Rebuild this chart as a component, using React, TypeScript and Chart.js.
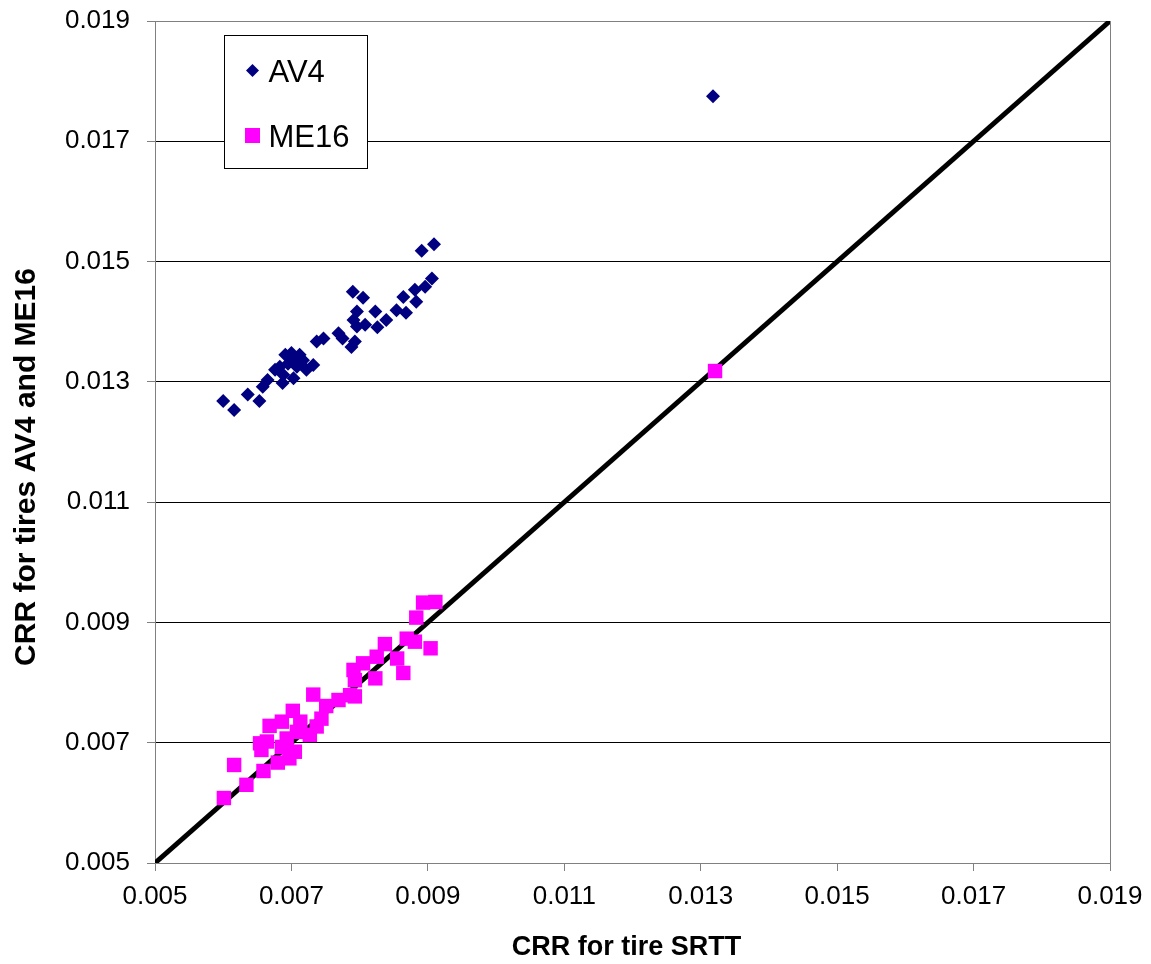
import React, { useEffect, useRef } from "react";
import { Chart, registerables } from "chart.js";

Chart.register(...registerables);

// Rolling resistance coefficients: SRTT (x) against AV4 and ME16 (y)
const av4X = [
  0.0060, 0.00616, 0.00636, 0.00653, 0.00658, 0.00665, 0.00687, 0.00683, 0.00691, 0.0070,
  0.00703, 0.00708, 0.00717, 0.00722, 0.00732, 0.00737, 0.00747, 0.00769, 0.00775, 0.00788,
  0.00793, 0.0079, 0.00805, 0.00796, 0.00791, 0.00796, 0.00808, 0.00823, 0.00826, 0.00839,
  0.00854, 0.00864, 0.00868, 0.00881, 0.00883, 0.00896, 0.00906, 0.00891, 0.00909, 0.01318,
  0.00676, 0.00695, 0.00712, 0.00688, 0.00705,
];
const av4Y = [
  0.01268, 0.01253, 0.01279, 0.01268, 0.01292, 0.01303, 0.01298, 0.01325, 0.01345, 0.01348,
  0.01306, 0.01325, 0.01336, 0.0132, 0.01328, 0.01367, 0.01372, 0.01381, 0.01372, 0.01358,
  0.01367, 0.0145, 0.0144, 0.01417, 0.01403, 0.01392, 0.01395, 0.01417, 0.01391, 0.01403,
  0.01419, 0.01441, 0.01415, 0.01453, 0.01433, 0.01458, 0.01472, 0.01518, 0.01529, 0.01775,
  0.0132, 0.0133, 0.01345, 0.01312, 0.01338,
];

const me16X = [
  0.00601, 0.00634, 0.00616, 0.00659, 0.0068, 0.00697, 0.00705, 0.00686, 0.00654, 0.00664,
  0.00656, 0.00693, 0.00708, 0.00727, 0.00737, 0.00744, 0.00668, 0.00686, 0.00702, 0.00732,
  0.00769, 0.00786, 0.00793, 0.00793, 0.00791, 0.00805, 0.00823, 0.00825, 0.00837, 0.00855,
  0.00864, 0.00869, 0.00881, 0.00883, 0.00904, 0.00893, 0.00911, 0.01321, 0.00713, 0.00751,
];
const me16Y = [
  0.00608, 0.0063, 0.00663, 0.00653, 0.00667, 0.00674, 0.00685, 0.00693, 0.00699, 0.00702,
  0.00688, 0.00707, 0.00718, 0.00713, 0.00727, 0.0074, 0.00728, 0.00735, 0.00753, 0.0078,
  0.00771, 0.00779, 0.00777, 0.00804, 0.00821, 0.00832, 0.00807, 0.00843, 0.00864, 0.0084,
  0.00816, 0.00873, 0.00868, 0.00908, 0.00857, 0.00933, 0.00934, 0.01318, 0.00735, 0.00761,
];

// Equality line y = x across the full axis range
const equalityLine = [0.005, 0.019];

const axisTicks = [0.005, 0.007, 0.009, 0.011, 0.013, 0.015, 0.017, 0.019];

const seriesNames = ["AV4", "ME16"];
const seriesColors = ["#000080", "#FF00FF"];
const yAxisTitle = "CRR for tires AV4 and ME16";
const xAxisTitle = "CRR for tire SRTT";

const FONT = "'Liberation Sans', Arial, sans-serif";

const toPoints = (xs: number[], ys: number[]) => xs.map((x, i) => ({ x, y: ys[i] }));

// Grey frame around the plot area, the axis titles and an inset key box
const frameAndKey = {
  id: "frameAndKey",
  beforeDatasetsDraw(chart: any) {
    const { ctx, chartArea: a } = chart;
    ctx.save();
    ctx.strokeStyle = "#808080";
    ctx.lineWidth = 1;
    ctx.strokeRect(a.left + 0.5, a.top + 0.5, a.right - a.left, a.bottom - a.top);
    ctx.restore();
  },
  afterDraw(chart: any) {
    const { ctx, chartArea: a } = chart;

    // vertical axis title
    ctx.save();
    ctx.translate(35, (a.top + a.bottom) / 2 + 25);
    ctx.rotate(-Math.PI / 2);
    ctx.font = `bold 30px ${FONT}`;
    ctx.fillStyle = "#000000";
    ctx.textAlign = "center";
    ctx.textBaseline = "alphabetic";
    ctx.fillText(yAxisTitle, 0, 0);
    ctx.restore();

    // horizontal axis title
    ctx.save();
    ctx.font = `bold 27px ${FONT}`;
    ctx.fillStyle = "#000000";
    ctx.textAlign = "center";
    ctx.textBaseline = "alphabetic";
    ctx.fillText(xAxisTitle, (a.left + a.right) / 2 - 6, a.bottom + 92);
    ctx.restore();

    const bx = a.left + 69.5;
    const by = a.top + 14.5;
    const bw = 143;
    const bh = 133;
    ctx.save();
    ctx.fillStyle = "#ffffff";
    ctx.fillRect(bx, by, bw, bh);
    ctx.strokeStyle = "#000000";
    ctx.lineWidth = 1;
    ctx.strokeRect(bx, by, bw, bh);

    // AV4 diamond
    const dx = bx + 28;
    const dy = by + 35;
    ctx.fillStyle = seriesColors[0];
    ctx.beginPath();
    ctx.moveTo(dx - 6.5, dy);
    ctx.lineTo(dx, dy - 6.5);
    ctx.lineTo(dx + 6.5, dy);
    ctx.lineTo(dx, dy + 6.5);
    ctx.closePath();
    ctx.fill();

    // ME16 square
    const sx = bx + 28;
    const sy = by + 100;
    ctx.fillStyle = seriesColors[1];
    ctx.fillRect(sx - 7.5, sy - 7.5, 15, 15);

    ctx.fillStyle = "#000000";
    ctx.font = `31px ${FONT}`;
    ctx.textBaseline = "alphabetic";
    ctx.textAlign = "left";
    ctx.fillText(seriesNames[0], bx + 44, by + 46);
    ctx.fillText(seriesNames[1], bx + 44, by + 111);
    ctx.restore();
  },
};

export default function App() {
  const canvasRef = useRef<HTMLCanvasElement | null>(null);

  useEffect(() => {
    const canvas = canvasRef.current;
    if (!canvas) return;

    const tickFont = { family: FONT, size: 26 };
    const setTicks = (scale: any) => {
      scale.ticks = axisTicks.map((value) => ({ value }));
    };
    const fmt = (v: any) => Number(v).toFixed(3);

    const chart = new Chart(canvas, {
      type: "scatter",
      data: {
        datasets: [
          {
            label: seriesNames[0],
            data: toPoints(av4X, av4Y),
            pointStyle: "rectRot",
            pointRadius: 7,
            pointBackgroundColor: seriesColors[0],
            pointBorderColor: seriesColors[0],
            pointBorderWidth: 0,
          },
          {
            label: seriesNames[1],
            data: toPoints(me16X, me16Y),
            pointStyle: "rect",
            pointRadius: 10.2,
            pointBackgroundColor: seriesColors[1],
            pointBorderColor: seriesColors[1],
            pointBorderWidth: 0,
          },
          {
            type: "line" as any,
            label: "y = x",
            data: toPoints(equalityLine, equalityLine),
            borderColor: "#000000",
            borderWidth: 5,
            pointRadius: 0,
            fill: false,
          } as any,
        ],
      },
      options: {
        animation: false,
        responsive: false,
        maintainAspectRatio: false,
        layout: { padding: { left: 0, right: 41, top: 21, bottom: 0 } },
        plugins: {
          legend: { display: false },
          tooltip: { enabled: false },
          title: { display: false },
        },
        scales: {
          x: {
            type: "linear",
            min: 0.005,
            max: 0.019,
            afterBuildTicks: setTicks,
            afterFit: (scale: any) => {
              scale.height = 101;
              scale.paddingLeft = 0;
              scale.paddingRight = 0;
            },
            grid: {
              drawOnChartArea: false,
              drawTicks: true,
              tickLength: 8,
              tickColor: "#808080",
            },
            border: { display: true, color: "#808080", width: 1 },
            ticks: {
              font: tickFont,
              color: "#000000",
              padding: 10,
              maxRotation: 0,
              autoSkip: false,
              callback: fmt,
            },
            title: { display: false },
          },
          y: {
            type: "linear",
            min: 0.005,
            max: 0.019,
            afterBuildTicks: setTicks,
            afterFit: (scale: any) => {
              scale.width = 155;
              scale.paddingTop = 0;
              scale.paddingBottom = 0;
            },
            grid: {
              drawOnChartArea: true,
              drawTicks: true,
              tickLength: 8,
              tickColor: "#808080",
              color: (c: any) =>
                c.tick && c.tick.value === 0.005 ? "rgba(0,0,0,0)" : "#000000",
              lineWidth: 1,
            },
            border: { display: true, color: "#808080", width: 1 },
            ticks: {
              font: tickFont,
              color: "#000000",
              padding: 17,
              autoSkip: false,
              callback: fmt,
            },
            title: { display: false },
          },
        },
      },
      plugins: [frameAndKey],
    });

    return () => chart.destroy();
  }, []);

  return (
    <div style={{ position: "fixed", left: 0, top: 0, width: 1151, height: 964, background: "#ffffff" }}>
      <canvas ref={canvasRef} width={1151} height={964} style={{ display: "block", width: 1151, height: 964 }} />
    </div>
  );
}
